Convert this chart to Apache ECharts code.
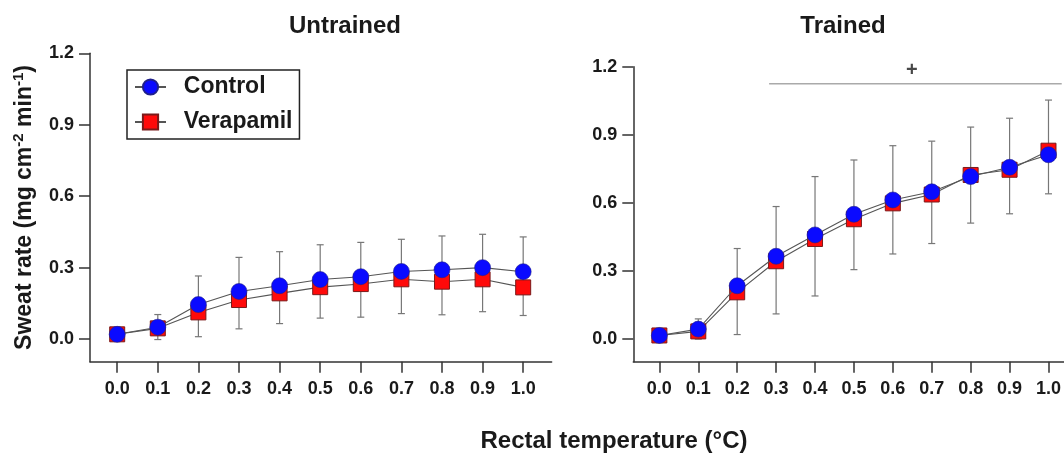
<!DOCTYPE html>
<html>
<head>
<meta charset="utf-8">
<script src="https://cdn.jsdelivr.net/npm/echarts@6/dist/echarts.min.js"></script>
<style>
html,body{margin:0;padding:0;background:#fff;}
#chart{width:1064px;height:454px;}
</style>
</head>
<body>
<div id="chart"></div>
<script>
// ---- Data ----
const temps = [0.0, 0.1, 0.2, 0.3, 0.4, 0.5, 0.6, 0.7, 0.8, 0.9, 1.0];
const xTickValues = [0.0, 0.1, 0.2, 0.3, 0.4, 0.5, 0.6, 0.7, 0.8, 0.9, 1.0];
const yTickValues = [0.0, 0.3, 0.6, 0.9, 1.2];

const untrainedControl   = [0.020, 0.050, 0.145, 0.200, 0.224, 0.250, 0.262, 0.284, 0.291, 0.300, 0.283];
const untrainedVerapamil = [0.020, 0.045, 0.112, 0.164, 0.192, 0.218, 0.231, 0.251, 0.241, 0.251, 0.217];
const untrainedErrHigh   = [0.030, 0.103, 0.265, 0.343, 0.367, 0.396, 0.406, 0.419, 0.433, 0.440, 0.429];
const untrainedErrLow    = [0.010, -0.002, 0.010, 0.043, 0.065, 0.088, 0.092, 0.107, 0.102, 0.115, 0.099];

const trainedControl   = [0.016, 0.044, 0.235, 0.365, 0.459, 0.550, 0.613, 0.649, 0.716, 0.757, 0.812];
const trainedVerapamil = [0.016, 0.034, 0.206, 0.343, 0.441, 0.528, 0.598, 0.637, 0.723, 0.746, 0.830];
const trainedErrHigh   = [0.026, 0.089, 0.399, 0.584, 0.716, 0.789, 0.852, 0.872, 0.934, 0.973, 1.053];
const trainedErrLow    = [0.006, 0.000, 0.020, 0.111, 0.190, 0.306, 0.375, 0.421, 0.511, 0.552, 0.640];

const sigLineStart = 0.282;
const sigLineEnd = 1.034;
const sigLineLevel = 1.125;
const sigMarkX = 0.649;
const sigMarkY = 1.182;

// ---- Styling ----
const FONT = "'Liberation Sans', Arial, Helvetica, sans-serif";
const TXT = '#1a1a1a';
const AX = '#333';

function pairs(xs, ys) { return xs.map((x, i) => [x, ys[i]]); }
function errData(xs, lo, hi) { return xs.map((x, i) => [x, lo[i], hi[i]]); }

function errRender(params, api) {
  const x = api.value(0), lo = api.value(1), hi = api.value(2);
  const a = api.coord([x, lo]);
  const b = api.coord([x, hi]);
  const cap = 3.5;
  const st = { stroke: '#777', lineWidth: 1.2 };
  return {
    type: 'group',
    children: [
      { type: 'line', shape: { x1: a[0], y1: a[1], x2: b[0], y2: b[1] }, style: st },
      { type: 'line', shape: { x1: a[0] - cap, y1: a[1], x2: a[0] + cap, y2: a[1] }, style: st },
      { type: 'line', shape: { x1: b[0] - cap, y1: b[1], x2: b[0] + cap, y2: b[1] }, style: st }
    ]
  };
}

function xAxisCfg(idx, max) {
  return {
    type: 'value', gridIndex: idx, min: -0.067, max: max,
    splitLine: { show: false },
    axisLine: { show: true, onZero: false, lineStyle: { color: AX, width: 1.5 } },
    axisTick: { show: true, length: 11, customValues: xTickValues, lineStyle: { color: AX, width: 1.5 } },
    axisLabel: { customValues: xTickValues, margin: 18, fontSize: 18, fontWeight: 'bold', fontFamily: FONT, color: TXT,
      formatter: v => v.toFixed(1) }
  };
}
function yAxisCfg(idx, min, withName) {
  const c = {
    type: 'value', gridIndex: idx, min: min, max: 1.2,
    splitLine: { show: false },
    axisLine: { show: true, onZero: false, lineStyle: { color: AX, width: 1.5 } },
    axisTick: { show: true, length: 11, customValues: yTickValues, lineStyle: { color: AX, width: 1.5 } },
    axisLabel: { customValues: yTickValues, margin: 16, fontSize: 18, fontWeight: 'bold', fontFamily: FONT, color: TXT,
      formatter: v => v.toFixed(1) }
  };
  if (withName) {
    c.name = 'Sweat rate (mg cm{sup|-2} min{sup|-1})';
    c.nameLocation = 'middle';
    c.nameRotate = 90;
    c.nameGap = 51;
    c.nameTextStyle = {
      fontSize: 23, fontWeight: 'bold', fontFamily: FONT, color: TXT, lineHeight: 28,
      rich: { sup: { fontSize: 15, fontWeight: 'bold', fontFamily: FONT, color: TXT, verticalAlign: 'top', lineHeight: 15 } }
    };
  }
  return c;
}

const ctrlStyle = { color: '#0a0aff', borderColor: '#20208a', borderWidth: 0.6 };
const veraStyle = { color: '#ff0a0a', borderColor: '#7a1a1a', borderWidth: 1 };
const connLine = { color: '#555', width: 1.1 };

function panelSeries(idx, ctrl, vera, lo, hi) {
  return [
    { type: 'custom', name: 'err' + idx, xAxisIndex: idx, yAxisIndex: idx, renderItem: errRender,
      data: errData(temps, lo, hi), encode: { x: 0, y: [1, 2] }, z: 1, silent: true },
    { type: 'line', name: 'Verapamil', xAxisIndex: idx, yAxisIndex: idx, data: pairs(temps, vera),
      symbol: 'rect', symbolSize: 15, itemStyle: veraStyle, lineStyle: connLine, z: 3, silent: true },
    { type: 'line', name: 'Control', xAxisIndex: idx, yAxisIndex: idx, data: pairs(temps, ctrl),
      symbol: 'circle', symbolSize: 16, itemStyle: ctrlStyle, lineStyle: connLine, z: 4, silent: true }
  ];
}

const chart = echarts.init(document.getElementById('chart'), null, { renderer: 'canvas' });
chart.setOption({
  animation: false,
  backgroundColor: '#fff',
  title: [
    { text: 'Untrained', left: 340, top: 9, textAlign: 'center',
      textStyle: { fontSize: 24, fontWeight: 'bold', fontFamily: FONT, color: TXT } },
    { text: 'Trained', left: 838, top: 9, textAlign: 'center',
      textStyle: { fontSize: 24, fontWeight: 'bold', fontFamily: FONT, color: TXT } }
  ],
  legend: {
    data: ['Control', 'Verapamil'],
    orient: 'vertical', left: 127, top: 70,
    itemWidth: 31, itemHeight: 19, itemGap: 9,
    padding: [4, 7, 4, 7],
    borderColor: '#222', borderWidth: 1.5, backgroundColor: '#fff',
    formatter: n => '  ' + n,
    textStyle: { fontSize: 23, fontWeight: 'bold', fontFamily: FONT, color: TXT, lineHeight: 26 },
    selectedMode: false
  },
  grid: [
    { left: 90, top: 53.3, width: 461.6, height: 308.4 },
    { left: 633.3, top: 66.7, width: 430.7, height: 295.1 }
  ],
  xAxis: [xAxisCfg(0, 1.07), xAxisCfg(1, 1.039)],
  yAxis: [yAxisCfg(0, -0.095, true), yAxisCfg(1, -0.1, false)],
  graphic: [
    { type: 'text', x: 614, y: 441, style: { text: 'Rectal temperature (°C)',
      font: 'bold 24px ' + FONT, fill: TXT, align: 'center', verticalAlign: 'middle' } }
  ],
  series: [
    ...panelSeries(0, untrainedControl, untrainedVerapamil, untrainedErrLow, untrainedErrHigh),
    ...panelSeries(1, trainedControl, trainedVerapamil, trainedErrLow, trainedErrHigh),
    { type: 'line', name: 'sig', xAxisIndex: 1, yAxisIndex: 1, symbol: 'none', silent: true,
      data: [[sigLineStart, sigLineLevel], [sigLineEnd, sigLineLevel]], lineStyle: { color: '#aaa', width: 1.5 } },
    { type: 'scatter', name: 'sigMark', xAxisIndex: 1, yAxisIndex: 1, symbolSize: 1, silent: true,
      itemStyle: { color: 'rgba(0,0,0,0)' },
      data: [[sigMarkX, sigMarkY]],
      label: { show: true, position: 'inside', formatter: '+', fontSize: 20, fontWeight: 'bold', fontFamily: FONT, color: TXT } }
  ]
});
</script>
</body>
</html>
